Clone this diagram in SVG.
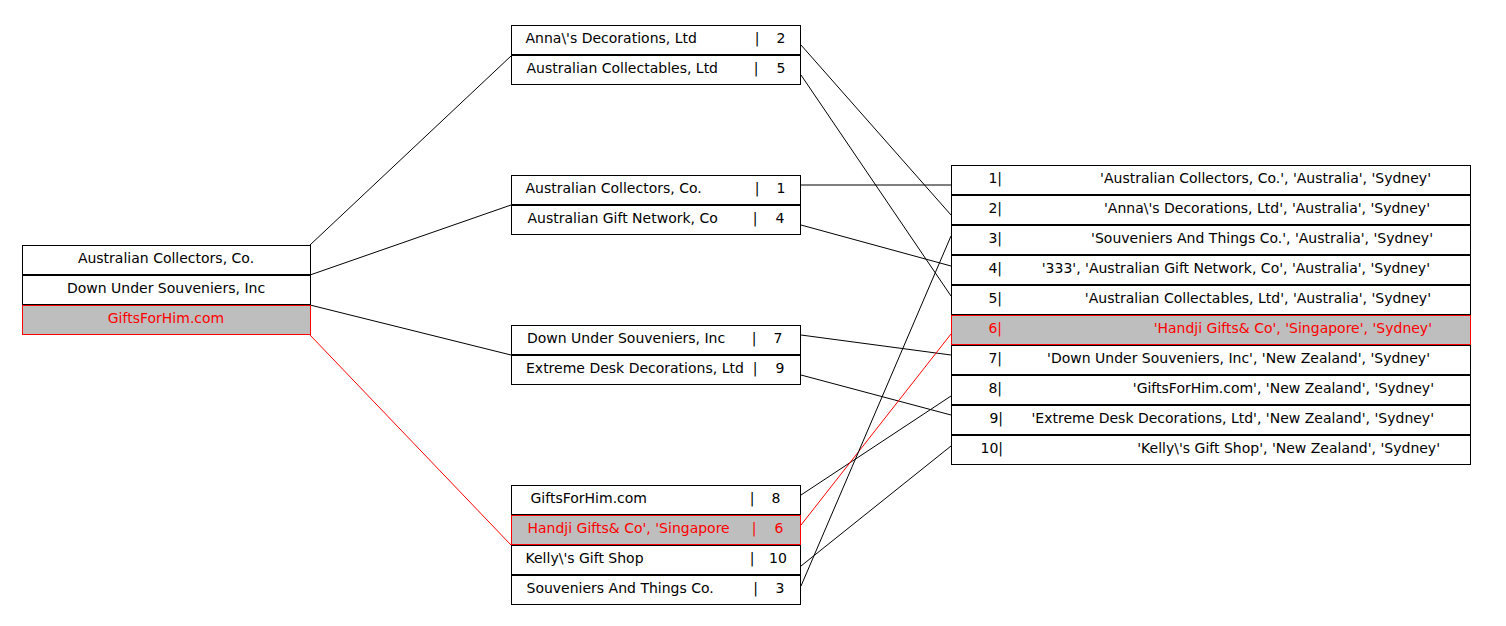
<svg xmlns="http://www.w3.org/2000/svg" width="1506" height="626" viewBox="0 0 1506 626">
<style>
text{font-family:"DejaVu Sans","Liberation Sans",sans-serif;font-size:14px;fill:#000}
.c{text-anchor:middle}
.e{text-anchor:end}
.r{fill:#fff;stroke:#000;stroke-width:1}
.h{fill:#bebebe;stroke:#ff0000;stroke-width:1}
text.red{fill:#ff0000}
.ln{stroke:#000;stroke-width:1;fill:none}
.lr{stroke:#ff0000;stroke-width:1;fill:none}
</style>
<rect width="1506" height="626" fill="#fff"/>
<g id="connectors">
<line class="ln" x1="310" y1="245" x2="511" y2="56"/>
<line class="ln" x1="310" y1="275" x2="511" y2="205"/>
<line class="ln" x1="310" y1="305" x2="511" y2="355"/>
<line class="lr" x1="310" y1="335" x2="511" y2="545"/>
<line class="ln" x1="801" y1="45" x2="951" y2="215"/>
<line class="ln" x1="801" y1="75" x2="951" y2="296"/>
<line class="ln" x1="801" y1="185" x2="951" y2="185"/>
<line class="ln" x1="801" y1="225" x2="951" y2="266"/>
<line class="ln" x1="801" y1="335" x2="951" y2="355"/>
<line class="ln" x1="801" y1="375" x2="951" y2="415"/>
<line class="ln" x1="801" y1="495" x2="951" y2="396"/>
<line class="lr" x1="801" y1="525" x2="951" y2="334"/>
<line class="ln" x1="801" y1="566" x2="951" y2="446"/>
<line class="ln" x1="801" y1="586" x2="951" y2="236"/>
</g>
<g id="left">
<rect class="r" x="22.5" y="245.5" width="288" height="29"/>
<rect class="r" x="22.5" y="275.5" width="288" height="29"/>
<rect class="h" x="22.5" y="305.5" width="288" height="29"/>
<text class="c" x="166" y="263">Australian Collectors, Co.</text>
<text class="c" x="166" y="293">Down Under Souveniers, Inc</text>
<text class="c red" x="166" y="323">GiftsForHim.com</text>
</g>
<g id="nodeA">
<rect class="r" x="511.5" y="25.5" width="289" height="29"/>
<rect class="r" x="511.5" y="55.5" width="289" height="29"/>
<text x="525.5" y="43">Anna\'s Decorations, Ltd</text><text class="c" x="757" y="43">|</text><text class="c" x="781" y="43">2</text>
<text x="526.5" y="73">Australian Collectables, Ltd</text><text class="c" x="756" y="73">|</text><text class="c" x="781" y="73">5</text>
</g>
<g id="nodeB">
<rect class="r" x="511.5" y="175.5" width="289" height="29"/>
<rect class="r" x="511.5" y="205.5" width="289" height="29"/>
<text x="525.5" y="193">Australian Collectors, Co.</text><text class="c" x="757" y="193">|</text><text class="c" x="781" y="193">1</text>
<text x="527.5" y="223">Australian Gift Network, Co</text><text class="c" x="755" y="223">|</text><text class="c" x="780" y="223">4</text>
</g>
<g id="nodeC">
<rect class="r" x="511.5" y="325.5" width="289" height="29"/>
<rect class="r" x="511.5" y="355.5" width="289" height="29"/>
<text x="527" y="343">Down Under Souveniers, Inc</text><text class="c" x="754" y="343">|</text><text class="c" x="778" y="343">7</text>
<text x="526" y="373">Extreme Desk Decorations, Ltd</text><text class="c" x="755" y="373">|</text><text class="c" x="780" y="373">9</text>
</g>
<g id="nodeD">
<rect class="r" x="511.5" y="485.5" width="289" height="29"/>
<rect class="h" x="511.5" y="515.5" width="289" height="29"/>
<rect class="r" x="511.5" y="545.5" width="289" height="29"/>
<rect class="r" x="511.5" y="575.5" width="289" height="29"/>
<text x="530.5" y="503">GiftsForHim.com</text><text class="c" x="752" y="503">|</text><text class="c" x="776" y="503">8</text>
<text class="red" x="527.5" y="533">Handji Gifts&amp; Co', 'Singapore</text><text class="c red" x="754" y="533">|</text><text class="c red" x="779" y="533">6</text>
<text x="525.5" y="563">Kelly\'s Gift Shop</text><text class="c" x="752" y="563">|</text><text class="c" x="778" y="563">10</text>
<text x="526.5" y="593">Souveniers And Things Co.</text><text class="c" x="755.5" y="593">|</text><text class="c" x="780" y="593">3</text>
</g>
<g id="right">
<rect class="r" x="951.5" y="165.5" width="519" height="29"/>
<rect class="r" x="951.5" y="195.5" width="519" height="29"/>
<rect class="r" x="951.5" y="225.5" width="519" height="29"/>
<rect class="r" x="951.5" y="255.5" width="519" height="29"/>
<rect class="r" x="951.5" y="285.5" width="519" height="29"/>
<rect class="h" x="951.5" y="315.5" width="519" height="29"/>
<rect class="r" x="951.5" y="345.5" width="519" height="29"/>
<rect class="r" x="951.5" y="375.5" width="519" height="29"/>
<rect class="r" x="951.5" y="405.5" width="519" height="29"/>
<rect class="r" x="951.5" y="435.5" width="519" height="29"/>
<text class="e" x="1002" y="183">1|</text><text class="e" x="1431" y="183">'Australian Collectors, Co.', 'Australia', 'Sydney'</text>
<text class="e" x="1002" y="213">2|</text><text class="e" x="1430" y="213">'Anna\'s Decorations, Ltd', 'Australia', 'Sydney'</text>
<text class="e" x="1002" y="243">3|</text><text class="e" x="1433" y="243">'Souveniers And Things Co.', 'Australia', 'Sydney'</text>
<text class="e" x="1002" y="273">4|</text><text class="e" x="1430" y="273">'333', 'Australian Gift Network, Co', 'Australia', 'Sydney'</text>
<text class="e" x="1002" y="303">5|</text><text class="e" x="1431" y="303">'Australian Collectables, Ltd', 'Australia', 'Sydney'</text>
<text class="e red" x="1002" y="333">6|</text><text class="e red" x="1432" y="333">'Handji Gifts&amp; Co', 'Singapore', 'Sydney'</text>
<text class="e" x="1002" y="363">7|</text><text class="e" x="1430" y="363">'Down Under Souveniers, Inc', 'New Zealand', 'Sydney'</text>
<text class="e" x="1002" y="393">8|</text><text class="e" x="1434" y="393">'GiftsForHim.com', 'New Zealand', 'Sydney'</text>
<text class="e" x="1003" y="423">9|</text><text class="e" x="1434" y="423">'Extreme Desk Decorations, Ltd', 'New Zealand', 'Sydney'</text>
<text class="e" x="1003" y="453">10|</text><text class="e" x="1440" y="453">'Kelly\'s Gift Shop', 'New Zealand', 'Sydney'</text>
</g>
</svg>
